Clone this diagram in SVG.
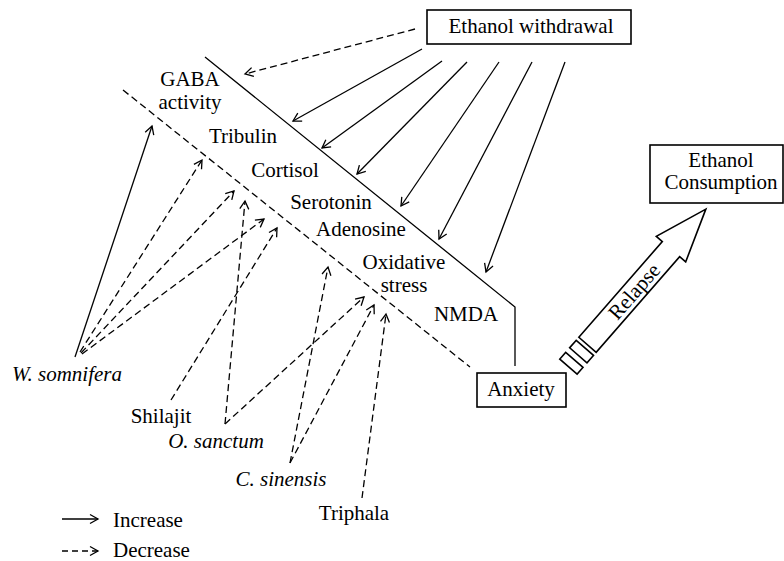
<svg xmlns="http://www.w3.org/2000/svg" width="784" height="561" viewBox="0 0 784 561" font-family="'Liberation Serif', 'DejaVu Serif', serif" font-size="21">
<style>
text{font-family:'Liberation Serif','DejaVu Serif',serif;font-size:21px;fill:#000}
.it{font-style:italic}
.mid{text-anchor:middle}
.box{fill:#fff;stroke:#000;stroke-width:1.6}
.ln{fill:none;stroke:#000;stroke-width:1.3}
.ds{fill:none;stroke:#000;stroke-width:1.3;stroke-dasharray:7 4}
.ar{marker-end:url(#ah)}
</style>
<defs>
<marker id="ah" viewBox="-10 -6 12 12" refX="0" refY="0" markerWidth="12" markerHeight="12" orient="auto" markerUnits="userSpaceOnUse">
<path d="M-8,-4.5 L0,0 L-8,4.5" fill="none" stroke="#000" stroke-width="1.3" stroke-dasharray="none"/>
</marker>
</defs>
<rect width="784" height="561" fill="#fff"/>

<g id="connectors">
<polyline class="ln" points="205,57 515,307 515,366"/>
<line class="ds" x1="123" y1="90" x2="470" y2="367"/>
<line class="ds ar" x1="415" y1="29" x2="245" y2="74"/>
<line class="ln ar" x1="422" y1="49" x2="293" y2="121"/>
<line class="ln ar" x1="442" y1="61" x2="322" y2="148"/>
<line class="ln ar" x1="467" y1="62" x2="357" y2="174"/>
<line class="ln ar" x1="499" y1="62" x2="401" y2="206"/>
<line class="ln ar" x1="532" y1="62" x2="439" y2="239"/>
<line class="ln ar" x1="565" y1="62" x2="486" y2="272"/>
<line class="ln ar" x1="75" y1="357" x2="152" y2="126"/>
<line class="ds ar" x1="80" y1="352" x2="202" y2="160"/>
<line class="ds ar" x1="81" y1="353" x2="234" y2="191"/>
<line class="ds ar" x1="82" y1="354" x2="264" y2="219"/>
<line class="ds ar" x1="171" y1="400" x2="277" y2="228"/>
<line class="ds ar" x1="225" y1="424" x2="245" y2="201"/>
<line class="ds ar" x1="225" y1="424" x2="364" y2="297"/>
<line class="ds ar" x1="290" y1="463" x2="328" y2="267"/>
<line class="ds ar" x1="290" y1="463" x2="374" y2="305"/>
<line class="ds ar" x1="362" y1="498" x2="386" y2="314"/>
<g id="relapse-arrow" transform="translate(587.5,344.8) rotate(-48.9)">
<polygon class="box" points="0,-11.5 127,-11.5 127,-19.5 180,0 127,19.5 127,11.5 0,11.5"/>
<rect class="box" x="-14" y="-11.5" width="10" height="23"/>
<rect class="box" x="-29" y="-11.5" width="9" height="23"/>
<text class="mid" x="71" y="7">Relapse</text>
</g>
</g>

<g id="ethanol-withdrawal">
<rect class="box" x="427" y="10" width="204" height="34"/>
<text class="mid" x="531" y="33">Ethanol withdrawal</text>
</g>
<g id="ethanol-consumption">
<rect class="box" x="650" y="145" width="133" height="58"/>
<text class="mid" x="721" y="167">Ethanol</text>
<text class="mid" x="721" y="189">Consumption</text>
</g>
<g id="anxiety">
<rect class="box" x="477" y="373" width="89" height="34"/>
<text class="mid" x="521" y="396">Anxiety</text>
</g>

<g id="gaba"><text class="mid" x="190" y="86">GABA</text><text class="mid" x="190" y="109">activity</text></g>
<g id="tribulin"><text class="mid" x="243" y="143">Tribulin</text></g>
<g id="cortisol"><text class="mid" x="285" y="177">Cortisol</text></g>
<g id="serotonin"><text class="mid" x="331" y="209">Serotonin</text></g>
<g id="adenosine"><text class="mid" x="361" y="236">Adenosine</text></g>
<g id="oxidative-stress"><text class="mid" x="404" y="269">Oxidative</text><text class="mid" x="404" y="292">stress</text></g>
<g id="nmda"><text class="mid" x="466" y="321">NMDA</text></g>

<g id="w-somnifera"><text class="mid it" x="67" y="381">W. somnifera</text></g>
<g id="shilajit"><text class="mid" x="161" y="423">Shilajit</text></g>
<g id="o-sanctum"><text class="mid it" x="216" y="448">O. sanctum</text></g>
<g id="c-sinensis"><text class="mid it" x="281" y="486">C. sinensis</text></g>
<g id="triphala"><text class="mid" x="354" y="520">Triphala</text></g>

<g id="legend">
<line class="ln ar" x1="62" y1="519" x2="98" y2="519"/>
<text x="113" y="527">Increase</text>
<line class="ds ar" x1="62" y1="551" x2="98" y2="551" style="stroke-dasharray:6 4"/>
<text x="113" y="557">Decrease</text>
</g>
</svg>
